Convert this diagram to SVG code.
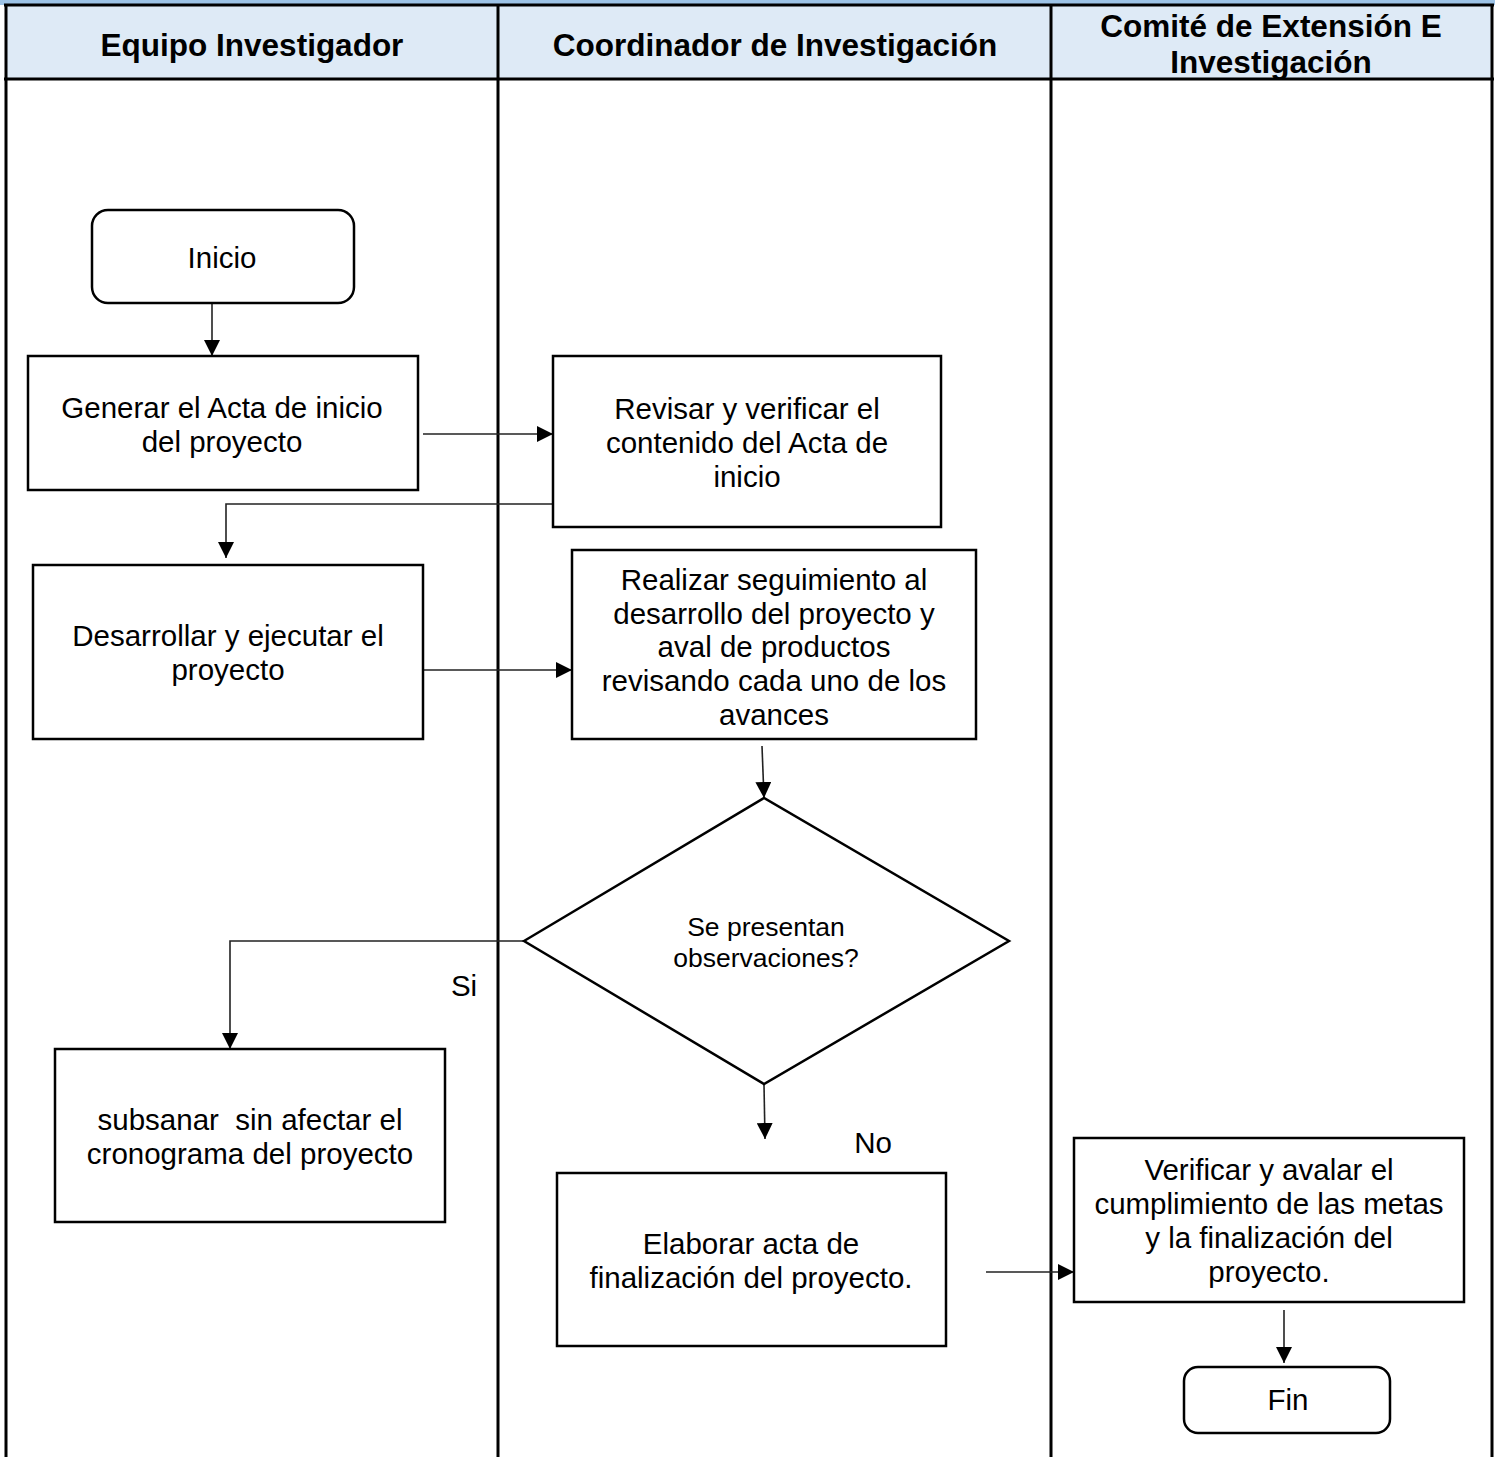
<svg xmlns="http://www.w3.org/2000/svg" width="1495" height="1457" viewBox="0 0 1495 1457">
<defs>
<marker id="ah" markerUnits="userSpaceOnUse" markerWidth="18" markerHeight="16" refX="16" refY="8" orient="auto">
<path d="M0,0 L16,8 L0,16 Z" fill="#000"/>
</marker>
<style>
.lane{fill:none;stroke:#000;stroke-width:3}
.hdr{font-family:"Liberation Sans",Arial,sans-serif;font-size:31.5px;font-weight:bold;fill:#000;text-anchor:middle}
.box{fill:#fff;stroke:#000;stroke-width:2.5}
.t{font-family:"Liberation Sans",Arial,sans-serif;font-size:29.5px;fill:#000;text-anchor:middle;white-space:pre}
.ts{font-family:"Liberation Sans",Arial,sans-serif;font-size:26.5px;fill:#000;text-anchor:middle}
.ca{fill:none;stroke:#222;stroke-width:1.6;marker-end:url(#ah)}
</style>
</defs>
<rect x="0" y="0" width="1495" height="1457" fill="#fff"/>
<g id="swimlanes">
<rect x="0" y="0" width="1495" height="5" fill="#9DC3E6"/>
<rect x="6" y="6" width="1486" height="73" fill="#DEEAF6"/>
<line x1="4" y1="5" x2="1494" y2="5" class="lane"/>
<line x1="4" y1="79" x2="1494" y2="79" class="lane"/>
<line x1="6" y1="4" x2="6" y2="1457" class="lane"/>
<line x1="1492" y1="4" x2="1492" y2="1457" class="lane"/>
<line x1="498" y1="5" x2="498" y2="1457" class="lane"/>
<line x1="1051" y1="5" x2="1051" y2="1457" class="lane"/>
<text class="hdr" x="252" y="56">Equipo Investigador</text>
<text class="hdr" x="775" y="56">Coordinador de Investigación</text>
<text class="hdr" x="1271" y="37">Comité de Extensión E</text>
<text class="hdr" x="1271" y="73">Investigación</text>
</g>
<g id="connectors">
<line x1="212" y1="304" x2="212" y2="356" class="ca"/>
<line x1="423" y1="434" x2="553" y2="434" class="ca"/>
<polyline points="553,504 226,504 226,558" class="ca"/>
<line x1="423" y1="670" x2="572" y2="670" class="ca"/>
<line x1="762" y1="746" x2="764" y2="798" class="ca"/>
<polyline points="524,941 230,941 230,1049" class="ca"/>
<line x1="764" y1="1085" x2="765" y2="1139" class="ca"/>
<line x1="986" y1="1272" x2="1074" y2="1272" class="ca"/>
<line x1="1284" y1="1310" x2="1284" y2="1363" class="ca"/>
<text class="t" x="464" y="996">Si</text>
<text class="t" x="873" y="1153">No</text>
</g>
<g id="inicio">
<rect x="92" y="210" width="262" height="93" rx="16" class="box"/>
<text class="t" x="222" y="268">Inicio</text>
</g>
<g id="generar">
<rect x="28" y="356" width="390" height="134" class="box"/>
<text class="t" x="222" y="418">Generar el Acta de inicio</text>
<text class="t" x="222" y="452">del proyecto</text>
</g>
<g id="revisar">
<rect x="553" y="356" width="388" height="171" class="box"/>
<text class="t" x="747" y="419">Revisar y verificar el</text>
<text class="t" x="747" y="453">contenido del Acta de</text>
<text class="t" x="747" y="487">inicio</text>
</g>
<g id="desarrollar">
<rect x="33" y="565" width="390" height="174" class="box"/>
<text class="t" x="228" y="646">Desarrollar y ejecutar el</text>
<text class="t" x="228" y="680">proyecto</text>
</g>
<g id="realizar">
<rect x="572" y="550" width="404" height="189" class="box"/>
<text class="t" x="774" y="590">Realizar seguimiento al</text>
<text class="t" x="774" y="624">desarrollo del proyecto y</text>
<text class="t" x="774" y="657">aval de productos</text>
<text class="t" x="774" y="691">revisando cada uno de los</text>
<text class="t" x="774" y="725">avances</text>
</g>
<g id="decision">
<polygon points="524,941 764,798 1009,941 764,1084" class="box"/>
<text class="ts" x="766" y="936">Se presentan</text>
<text class="ts" x="766" y="967">observaciones?</text>
</g>
<g id="subsanar">
<rect x="55" y="1049" width="390" height="173" class="box"/>
<text class="t" x="250" y="1130">subsanar  sin afectar el</text>
<text class="t" x="250" y="1164">cronograma del proyecto</text>
</g>
<g id="elaborar">
<rect x="557" y="1173" width="389" height="173" class="box"/>
<text class="t" x="751" y="1254">Elaborar acta de</text>
<text class="t" x="751" y="1288">finalización del proyecto.</text>
</g>
<g id="verificar">
<rect x="1074" y="1138" width="390" height="164" class="box"/>
<text class="t" x="1269" y="1180">Verificar y avalar el</text>
<text class="t" x="1269" y="1214">cumplimiento de las metas</text>
<text class="t" x="1269" y="1248">y la finalización del</text>
<text class="t" x="1269" y="1282">proyecto.</text>
</g>
<g id="fin">
<rect x="1184" y="1367" width="206" height="66" rx="14" class="box"/>
<text class="t" x="1288" y="1410">Fin</text>
</g>
</svg>
